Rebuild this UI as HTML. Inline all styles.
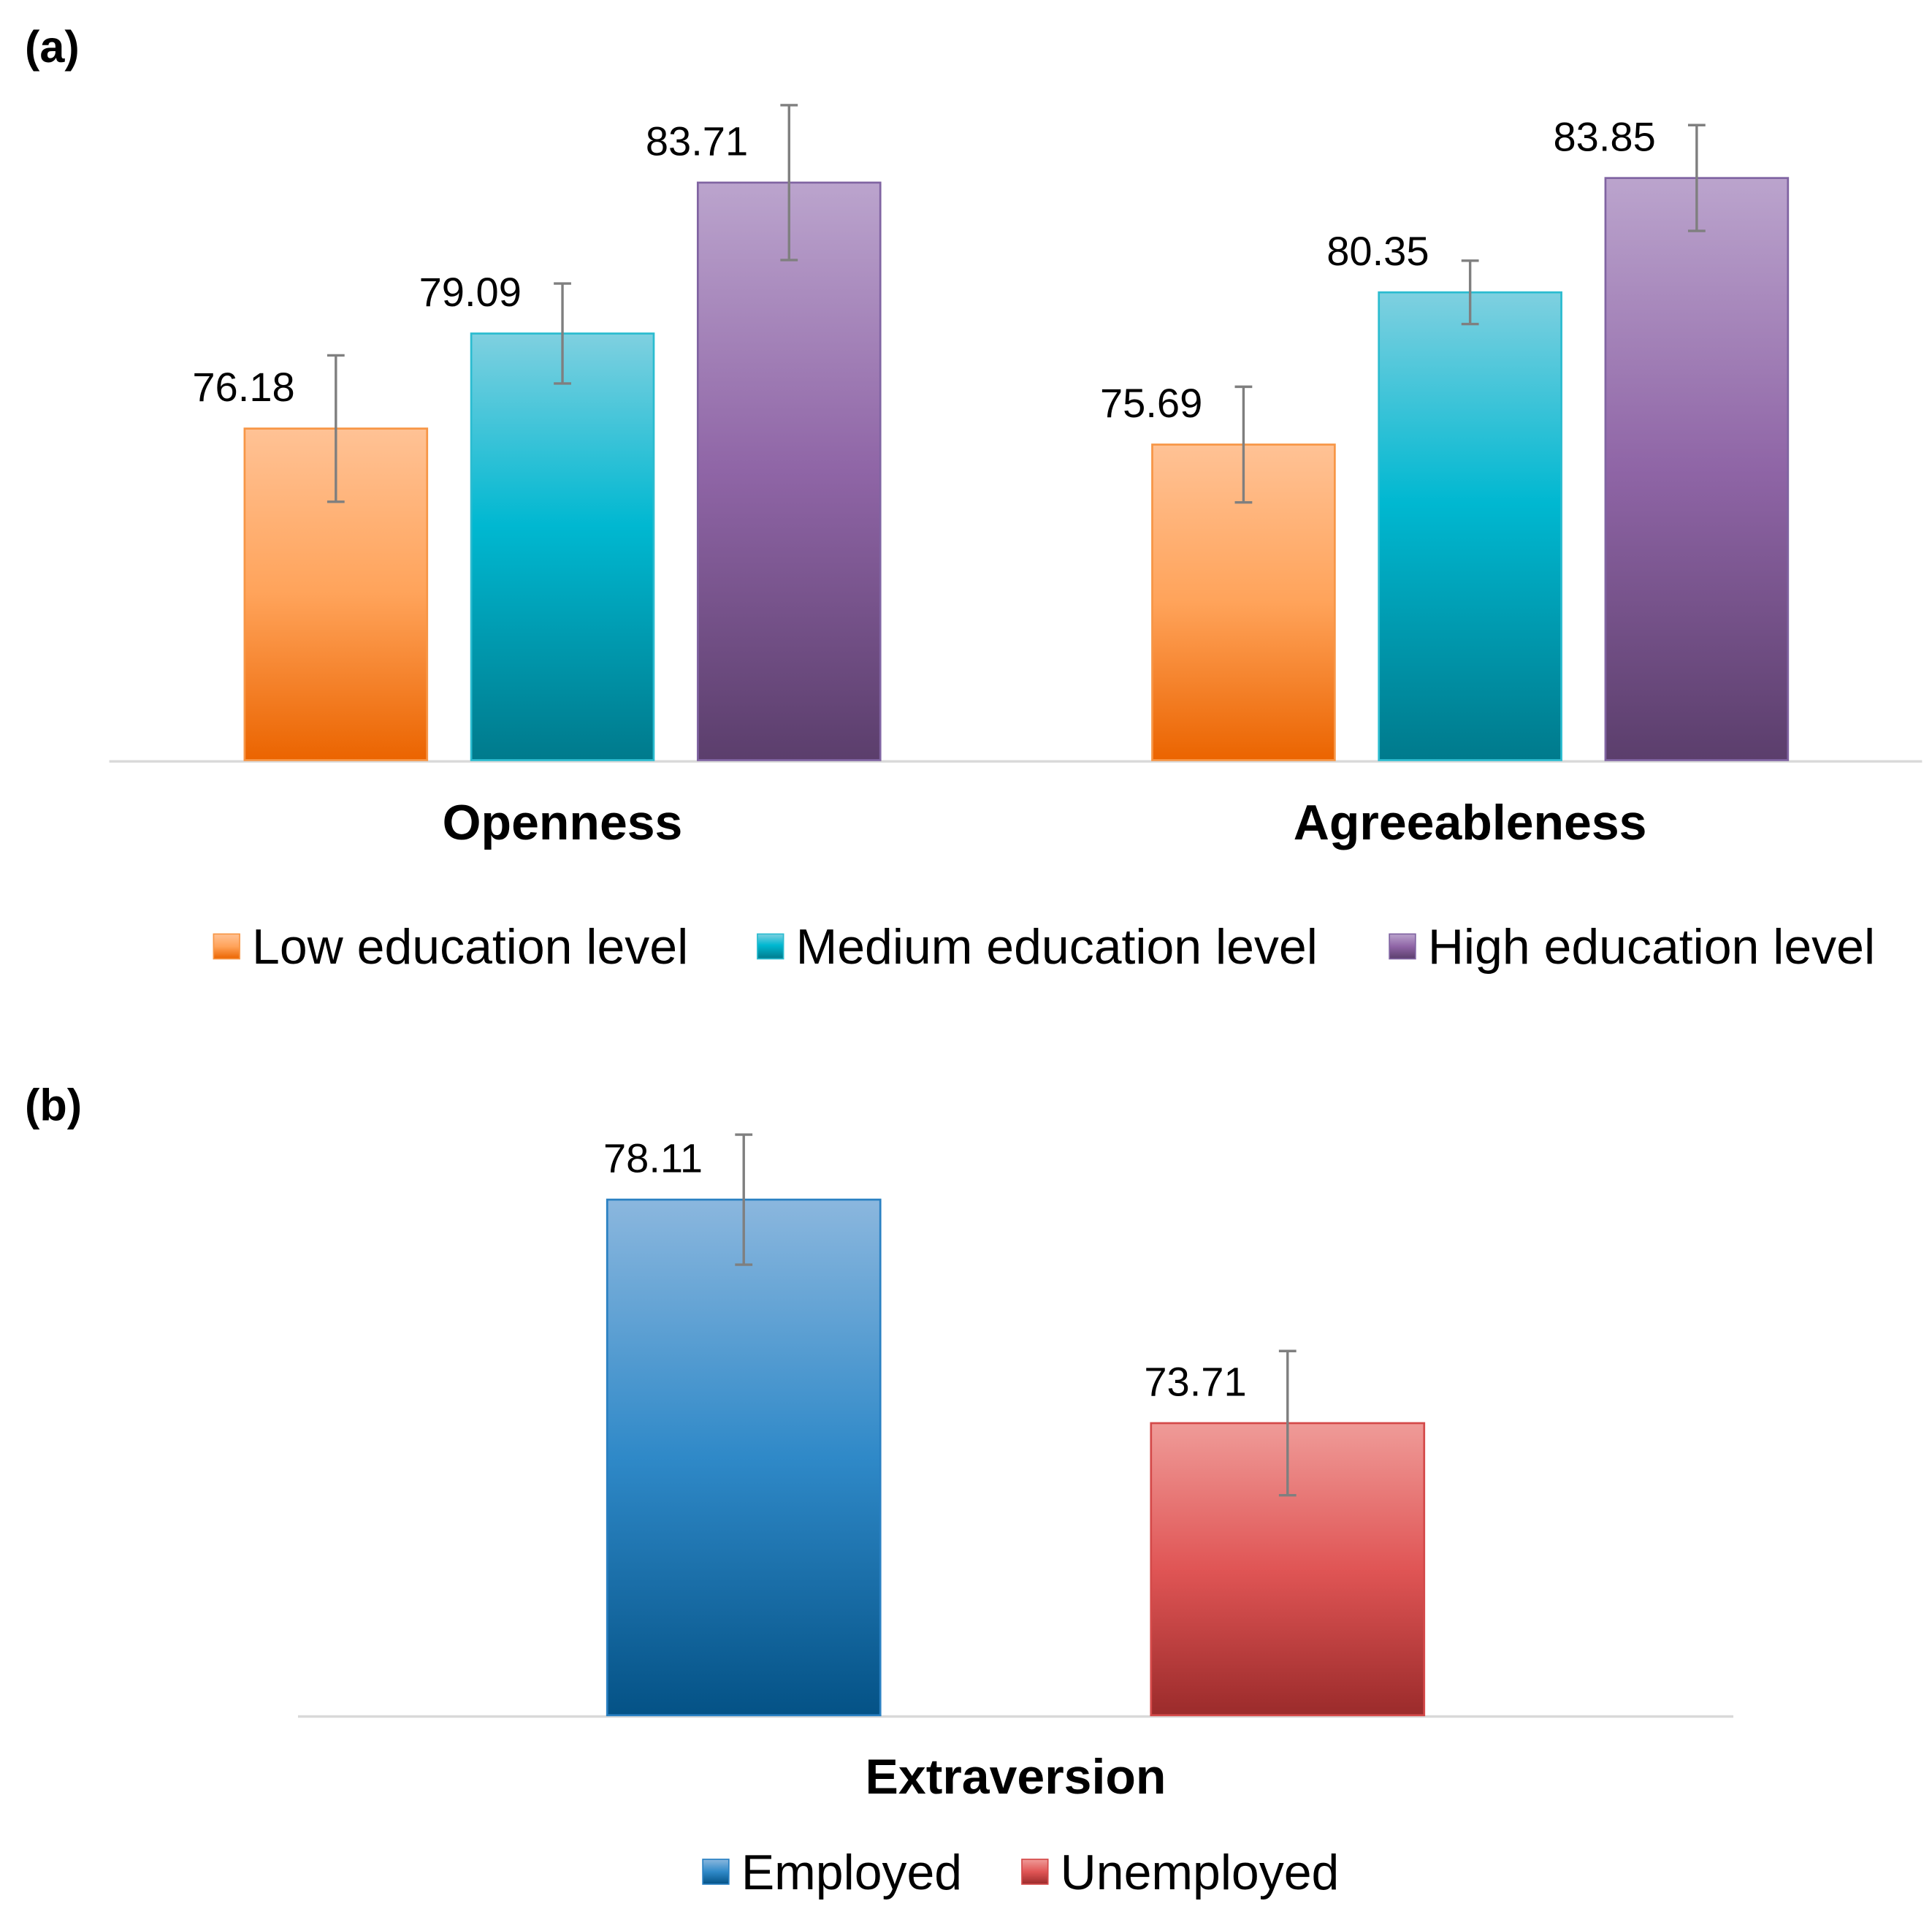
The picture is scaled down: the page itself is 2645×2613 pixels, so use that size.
<!DOCTYPE html>
<html><head><meta charset="utf-8"><style>
html,body{margin:0;padding:0;background:#fff;width:2645px;height:2613px;overflow:hidden;}
svg{display:block;font-family:"Liberation Sans",Arial,sans-serif;}
</style></head><body>
<svg id="chart" width="2645" height="2613" viewBox="0 0 1556 1537" preserveAspectRatio="none" xmlns="http://www.w3.org/2000/svg">
<defs>
<linearGradient id="gO" x1="0" y1="0" x2="0" y2="1"><stop offset="0" stop-color="#ffc295"/><stop offset="0.5" stop-color="#ffa35a"/><stop offset="1" stop-color="#eb6400"/></linearGradient>
<linearGradient id="gT" x1="0" y1="0" x2="0" y2="1"><stop offset="0" stop-color="#7fd0e0"/><stop offset="0.45" stop-color="#00b8d1"/><stop offset="1" stop-color="#007a8c"/></linearGradient>
<linearGradient id="gP" x1="0" y1="0" x2="0" y2="1"><stop offset="0" stop-color="#bba4cd"/><stop offset="0.5" stop-color="#8f65a6"/><stop offset="1" stop-color="#5b3e6c"/></linearGradient>
<linearGradient id="gB" x1="0" y1="0" x2="0" y2="1"><stop offset="0" stop-color="#8bb7de"/><stop offset="0.5" stop-color="#2f89c8"/><stop offset="1" stop-color="#045286"/></linearGradient>
<linearGradient id="gR" x1="0" y1="0" x2="0" y2="1"><stop offset="0" stop-color="#ef9b98"/><stop offset="0.5" stop-color="#e05555"/><stop offset="1" stop-color="#9b2b2b"/></linearGradient>
</defs>
<text x="20" y="50" font-size="36" font-weight="bold">(a)</text>
<text x="20" y="902" font-size="36" font-weight="bold">(b)</text>
<g id="pa"></g><g id="pb"></g>
</svg>
<script>
// Panel (a)
const catsA = ["Openness", "Agreeableness"];
const seriesA = ["Low education level", "Medium education level", "High education level"];
const valsLow = [76.18, 75.69];
const valsMed = [79.09, 80.35];
const valsHigh = [83.71, 83.85];
const errLow = [2.24, 1.77];
const errMed = [1.53, 0.97];
const errHigh = [2.37, 1.62];
// Panel (b)
const catsB = ["Extraversion"];
const seriesB = ["Employed", "Unemployed"];
const valsB = [78.11, 73.71];
const errB = [1.28, 1.42];

const NS = "http://www.w3.org/2000/svg";
function mk(parent, tag, attrs, text) {
  const e = document.createElementNS(NS, tag);
  for (const k in attrs) e.setAttribute(k, attrs[k]);
  if (text !== undefined) e.textContent = text;
  parent.appendChild(e);
  return e;
}
function bar(g, x, w, y0, y, fill, stroke, ey1, ey2, label, name) {
  const r = mk(g, "rect", {x: x, y: y, width: w, height: y0 - y, fill: fill, stroke: stroke, "stroke-width": 1.6});
  
  
  const cx = x + w / 2;
  const eb = mk(g, "path", {d: `M${cx},${ey1}V${ey2}M${cx-7},${ey1}H${cx+7}M${cx-7},${ey2}H${cx+7}`, stroke: "#7f7f7f", "stroke-width": 2, fill: "none"});
  
  
  const t = mk(g, "text", {x: cx - 33, y: y - 22, "font-size": 33, "text-anchor": "end", fill: "#000"}, label);
  
  
}
function legendItem(g, x, y, fill, stroke, text, name) {
  const s = mk(g, "rect", {x: x, y: y - 10, width: 21, height: 20, fill: fill, stroke: stroke, "stroke-width": 1});
  
  
  const t = mk(g, "text", {x: x + 31, y: y + 14, "font-size": 40, fill: "#000"}, text);
  
  
}

const ga = document.getElementById("pa");
const aBase = 612, aMin = 66.03, aScale = 26.3;
const yA = v => aBase - (v - aMin) * aScale;
const groupStartA = [197, 928];
const barW = 147, barStep = 182.5;
const fillsA = ["url(#gO)", "url(#gT)", "url(#gP)"];
const strokesA = ["#f79646", "#2cbcd0", "#8064a2"];
const keysA = ["low", "medium", "high"];
const valsA = [valsLow, valsMed, valsHigh];
const errsA = [errLow, errMed, errHigh];
const axA = mk(ga, "line", {x1: 88, y1: aBase + 1, x2: 1548, y2: aBase + 1, stroke: "#d9d9d9", "stroke-width": 2});


catsA.forEach((c, i) => {
  for (let s = 0; s < 3; s++) {
    const x = groupStartA[i] + s * barStep;
    const v = valsA[s][i], e = errsA[s][i];
    bar(ga, x, barW, aBase, yA(v), fillsA[s], strokesA[s], yA(v + e), yA(v - e), v.toFixed(2), `bar-${c.toLowerCase()}-${keysA[s]}`);
  }
  const t = mk(ga, "text", {x: groupStartA[i] + barStep + barW / 2, y: 676, "font-size": 40, "font-weight": "bold", "text-anchor": "middle"}, c);
  
  
});
const legXA = [172, 610, 1119];
seriesA.forEach((s, i) => legendItem(ga, legXA[i], 762, fillsA[i], strokesA[i], s, 'legend-' + keysA[i]));

const gb = document.getElementById("pb");
const bBase = 1381, bMin = 67.96, bScale = 40.9;
const yB = v => bBase - (v - bMin) * bScale;
const barXB = [489, 927];
const barWB = 220;
const fillsB = ["url(#gB)", "url(#gR)"];
const strokesB = ["#2a80c2", "#d44a4a"];
const axB = mk(gb, "line", {x1: 240, y1: bBase + 1, x2: 1396, y2: bBase + 1, stroke: "#d9d9d9", "stroke-width": 2});


seriesB.forEach((s, i) => {
  const v = valsB[i], e = errB[i];
  bar(gb, barXB[i], barWB, bBase, yB(v), fillsB[i], strokesB[i], yB(v + e), yB(v - e), v.toFixed(2), 'bar-' + s.toLowerCase());
});
const tb = mk(gb, "text", {x: 818, y: 1444, "font-size": 40, "font-weight": "bold", "text-anchor": "middle"}, catsB[0]);


const legXB = [566, 823];
seriesB.forEach((s, i) => legendItem(gb, legXB[i], 1507, fillsB[i], strokesB[i], s, 'legend-' + s.toLowerCase()));
</script>
</body></html>
